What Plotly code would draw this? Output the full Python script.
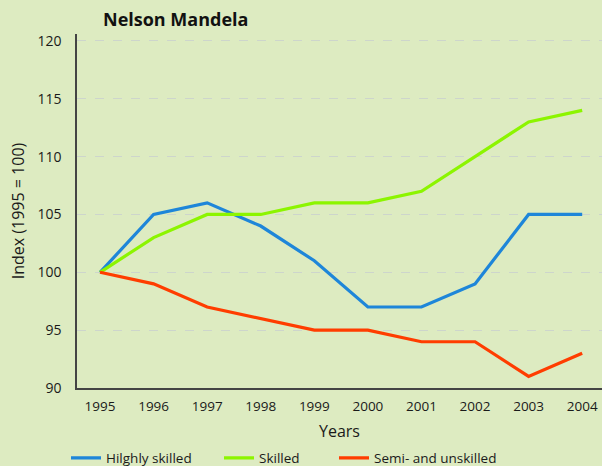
import plotly.graph_objects as go

years = [1995, 1996, 1997, 1998, 1999, 2000, 2001, 2002, 2003, 2004]
highly_skilled = [100, 105, 106, 104, 101, 97, 97, 99, 105, 105]
skilled = [100, 103, 105, 105, 106, 106, 107, 110, 113, 114]
semi_unskilled = [100, 99, 97, 96, 95, 95, 94, 94, 91, 93]
y_ticks = [90, 95, 100, 105, 110, 115, 120]

bg = "#DDEBC1"
font_family = "Open Sans, Lato, sans-serif"

fig = go.Figure()
fig.add_trace(go.Scatter(x=years, y=highly_skilled, mode="lines", legend="legend",
                         showlegend=True,
                         name="Hilghly skilled", line=dict(color="#1E86D9", width=3.2)))
fig.add_trace(go.Scatter(x=years, y=skilled, mode="lines", legend="legend2",
                         showlegend=True,
                         name="Skilled", line=dict(color="#8CF500", width=3.2)))
fig.add_trace(go.Scatter(x=years, y=semi_unskilled, mode="lines", legend="legend3",
                         showlegend=True,
                         name="Semi- and unskilled", line=dict(color="#FF3D00", width=3.2)))

# one legend box per entry so the entries can be spaced like the original
legend_style = dict(orientation="h", xref="container", yref="container",
                    xanchor="left", y=8 / 466, yanchor="middle",
                    bgcolor="rgba(0,0,0,0)", font=dict(size=13.5))

fig.update_layout(
    width=602,
    height=466,
    showlegend=True,
    paper_bgcolor=bg,
    plot_bgcolor=bg,
    font=dict(family=font_family, size=13, color="#1a1a1a"),
    margin=dict(l=77, r=0, t=34, b=78, autoexpand=False),
    title=dict(text="<b>Nelson Mandela</b>", xref="container", yref="container",
               x=103 / 602, xanchor="left", y=1 - 20 / 466, yanchor="middle",
               font=dict(size=18, color="#111111")),
    xaxis=dict(
        range=[1994.57, 2004.37],
        tickvals=years,
        ticks="outside",
        ticklen=5,
        tickcolor="rgba(0,0,0,0)",
        tickfont=dict(size=13.5),
        showgrid=False,
        zeroline=False,
        showline=True,
        linecolor="#444444",
        linewidth=1.5,
        automargin=False,
        title=dict(text="Years", standoff=14),
    ),
    yaxis=dict(
        range=[90, 120.6],
        tickvals=y_ticks,
        ticks="outside",
        ticklen=11,
        tickcolor="rgba(0,0,0,0)",
        tickfont=dict(size=14),
        showgrid=True,
        gridcolor="#CDD5CC",
        griddash="dash",
        gridwidth=1,
        zeroline=False,
        showline=True,
        linecolor="#444444",
        linewidth=1.5,
        automargin=False,
        title=dict(text="Index (1995 = 100)", standoff=9),
    ),
    legend=dict(legend_style, x=66 / 602),
    legend2=dict(legend_style, x=219 / 602),
    legend3=dict(legend_style, x=334 / 602),
)

# drop the browser's default body margin so the figure sits at the corner
fig.write_html("out.html", config={"displayModeBar": False},
               post_script="document.body.style.margin='0';")
